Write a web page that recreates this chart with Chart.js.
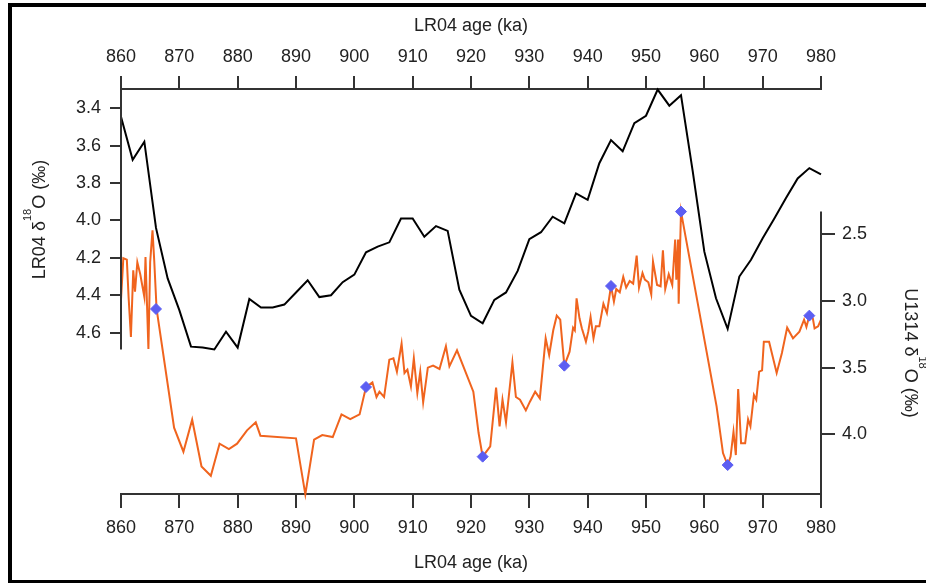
<!DOCTYPE html>
<html>
<head>
<meta charset="utf-8">
<title>LR04 and U1314 benthic d18O, 860-980 ka</title>
<script src="https://cdn.jsdelivr.net/npm/chart.js@4.4.1/dist/chart.umd.min.js"></script>
<style>
  html, body { margin: 0; padding: 0; background: #fff; overflow: hidden; }
  #isotopeChart { display: block; }
</style>
</head>
<body>
<canvas id="isotopeChart" width="926" height="583"></canvas>
<script>
// LR04 stack (2 kyr spacing)
const lr04Age = [860, 862, 864, 866, 868, 870, 872, 874, 876, 878, 880, 882, 884, 886, 888, 890,
  892, 894, 896, 898, 900, 902, 904, 906, 908, 910, 912, 914, 916, 918, 920, 922, 924, 926, 928,
  930, 932, 934, 936, 938, 940, 942, 944, 946, 948, 950, 952, 954, 956, 958, 960, 962, 964, 966,
  968, 970, 972, 974, 976, 978, 980];
const lr04D18O = [3.445, 3.676, 3.579, 4.04, 4.31, 4.48, 4.675, 4.68, 4.69, 4.595, 4.68, 4.42,
  4.466, 4.466, 4.45, 4.385, 4.32, 4.41, 4.40, 4.33, 4.29, 4.17, 4.14, 4.117, 3.99, 3.99, 4.087,
  4.03, 4.056, 4.37, 4.51, 4.55, 4.425, 4.385, 4.27, 4.10, 4.063, 3.98, 4.015, 3.855, 3.89, 3.694,
  3.57, 3.63, 3.48, 3.44, 3.30, 3.386, 3.33, 3.735, 4.167, 4.416, 4.58, 4.30, 4.21, 4.095, 3.99,
  3.88, 3.775, 3.72, 3.753];

// Site U1314 benthic record
const u1314Age = [860.0, 860.4, 861.0, 861.3, 861.7, 862.1, 862.4, 862.8, 863.3, 864.0, 864.2,
  864.7, 865.0, 865.4, 865.7, 866.1, 869.1, 870.7, 872.2, 873.8, 875.4, 876.9, 878.5, 879.9,
  881.6, 883.1, 883.9, 890.0, 891.6, 893.1, 894.5, 896.3, 897.8, 899.3, 900.9, 902.0, 903.1,
  903.8, 904.3, 905.1, 906.0, 906.7, 907.3, 908.1, 908.6, 909.1, 909.7, 910.2, 910.8, 911.3,
  911.8, 912.6, 913.5, 914.6, 915.7, 916.3, 917.6, 920.4, 921.3, 922.0, 923.3, 924.3, 924.9,
  925.4, 926.0, 927.1, 927.7, 928.4, 929.4, 930.1, 931.0, 931.8, 932.8, 933.4, 934.1, 934.7,
  935.3, 936.0, 936.9, 937.5, 937.8, 938.1, 938.6, 939.0, 939.7, 940.1, 940.5, 941.0, 941.4,
  942.0, 942.7, 943.3, 944.0, 944.5, 944.9, 945.5, 946.1, 946.6, 947.2, 947.8, 948.4, 948.8,
  949.4, 949.8, 950.4, 950.9, 951.2, 951.9, 952.5, 952.9, 953.3, 953.9, 954.5, 955.0, 955.2,
  955.5, 955.6, 956.0, 962.1, 963.2, 964.0, 964.5, 965.0, 965.4, 965.8, 966.3, 967.0, 967.5,
  967.9, 968.5, 968.9, 969.4, 969.9, 970.2, 971.1, 972.4, 973.3, 974.2, 975.2, 976.3, 977.1,
  977.5, 978.0, 978.6, 978.9, 979.5, 980.0];
const u1314D18O = [2.99, 2.68, 2.69, 2.97, 3.27, 2.77, 2.93, 2.71, 2.80, 2.97, 2.67,
  3.36, 2.71, 2.47, 2.70, 3.06, 3.95, 4.13, 3.89, 4.24, 4.31, 4.07, 4.11, 4.07,
  3.97, 3.91, 4.01, 4.03, 4.45, 4.04, 4.005, 4.02, 3.85, 3.885, 3.85, 3.645, 3.61,
  3.72, 3.68, 3.72, 3.44, 3.43, 3.53, 3.32, 3.54, 3.515, 3.64, 3.43, 3.69, 3.53,
  3.76, 3.50, 3.485, 3.51, 3.34, 3.49, 3.37, 3.68, 3.99, 4.167, 4.09, 3.65, 3.94,
  3.74, 3.91, 3.46, 3.72, 3.74, 3.82, 3.755, 3.68, 3.73, 3.28, 3.405, 3.22, 3.11,
  3.14, 3.485, 3.38, 3.20, 3.22, 2.98, 3.13, 3.205, 3.305, 3.23, 3.12, 3.28, 3.19,
  3.19, 3.02, 3.09, 2.888, 3.005, 2.91, 2.935, 2.82, 2.90, 2.85, 2.87, 2.66, 2.90,
  2.79, 2.84, 2.86, 2.95, 2.705, 2.88, 2.89, 2.62, 2.91, 2.80, 2.88, 2.54, 2.84,
  2.54, 3.02, 2.33, 3.79, 4.14, 4.23, 4.167, 3.98, 4.155, 3.66, 4.067, 4.067, 3.887,
  3.94, 3.705, 3.74, 3.53, 3.52, 3.305, 3.305, 3.54, 3.39, 3.20, 3.28, 3.23, 3.14,
  3.195, 3.11, 3.13, 3.205, 3.19, 3.14];

// Tie points between U1314 and LR04
const tieAge = [866, 902, 922, 936, 944, 956, 964, 978];
const tieD18O = [3.06, 3.645, 4.167, 3.485, 2.888, 2.33, 4.23, 3.11];

// Tick labels
const ageTicks = [860, 870, 880, 890, 900, 910, 920, 930, 940, 950, 960, 970, 980];
const lr04Ticks = [3.4, 3.6, 3.8, 4.0, 4.2, 4.4, 4.6];
const u1314Ticks = [2.5, 3.0, 3.5, 4.0];

const FONT = '"Liberation Sans", Arial, sans-serif';
const AXIS_COLOR = '#333';
const TEXT_COLOR = '#222';

Chart.defaults.font.family = FONT;
Chart.defaults.font.size = 18;
Chart.defaults.color = TEXT_COLOR;

function toPoints(xs, ys) {
  return xs.map((x, i) => ({ x: x, y: ys[i] }));
}

/**
 * Draw a rotated axis title with a superscript part (δ18O)
 */
function drawSupTitle(ctx, cx, cy, angle, before, sup, after) {
  const mainFont = '18px ' + FONT;
  const supFont = '11px ' + FONT;
  ctx.save();
  ctx.translate(cx, cy);
  ctx.rotate(angle);
  ctx.fillStyle = TEXT_COLOR;
  ctx.textBaseline = 'alphabetic';
  ctx.textAlign = 'left';
  ctx.font = mainFont;
  const w1 = ctx.measureText(before).width;
  const w3 = ctx.measureText(after).width;
  ctx.font = supFont;
  const w2 = ctx.measureText(sup).width;
  let x = -(w1 + w2 + w3) / 2;
  const base = 6.5;
  ctx.font = mainFont;
  ctx.fillText(before, x, base);
  x += w1;
  ctx.font = supFont;
  ctx.fillText(sup, x, base - 14);
  x += w2;
  ctx.font = mainFont;
  ctx.fillText(after, x, base);
  ctx.restore();
}

// Figure frame (left, top and bottom edges only)
const figureFrame = {
  id: 'figureFrame',
  beforeDraw(chart) {
    const ctx = chart.ctx;
    ctx.save();
    ctx.fillStyle = '#000';
    ctx.fillRect(8, 3, 4, 580);
    ctx.fillRect(8, 3, chart.width - 8, 4);
    ctx.fillRect(8, 580, chart.width - 8, 3);
    ctx.restore();
  }
};

// Igor-style partial y axes: the axis line only covers the data range
const partialAxes = {
  id: 'partialAxes',
  afterDraw(chart) {
    const ctx = chart.ctx;
    const yL = chart.scales.yL;
    const yR = chart.scales.yR;
    const lTop = yL.getPixelForValue(Math.min(...lr04D18O));
    const lBot = yL.getPixelForValue(Math.max(...lr04D18O));
    const rTop = yR.getPixelForValue(Math.min(...u1314D18O));
    const rBot = yR.getPixelForValue(Math.max(...u1314D18O));

    ctx.save();
    ctx.strokeStyle = AXIS_COLOR;
    ctx.lineWidth = 2;
    ctx.beginPath();
    ctx.moveTo(yL.right, lTop);
    ctx.lineTo(yL.right, lBot);
    ctx.moveTo(yR.left, rTop);
    ctx.lineTo(yR.left, rBot);
    ctx.stroke();
    ctx.restore();

    drawSupTitle(ctx, 38.5, (lTop + lBot) / 2, -Math.PI / 2, 'LR04 δ', '18', 'O (‰)');
    drawSupTitle(ctx, 911.5, (rTop + rBot) / 2, Math.PI / 2, 'U1314 δ', '18', 'O (‰)');
  }
};

function xAxis(position, tickLength, padding, titlePadding) {
  return {
    type: 'linear',
    position: position,
    min: 860,
    max: 980,
    afterBuildTicks: s => { s.ticks = ageTicks.map(v => ({ value: v })); },
    afterFit: s => { s.height = 89; },
    ticks: { padding: padding, color: TEXT_COLOR, callback: v => String(v) },
    grid: {
      drawOnChartArea: false, drawTicks: true, tickLength: tickLength,
      tickWidth: 2, tickColor: AXIS_COLOR, color: AXIS_COLOR, lineWidth: 2
    },
    border: { display: true, color: AXIS_COLOR, width: 2 },
    title: { display: true, text: 'LR04 age (ka)', color: TEXT_COLOR, padding: titlePadding }
  };
}

function yAxis(position, range, tickList, width, tickLength, padding) {
  return {
    type: 'linear',
    position: position,
    reverse: true,
    min: range[0],
    max: range[1],
    afterBuildTicks: s => { s.ticks = tickList.map(v => ({ value: v })); },
    afterFit: s => { s.width = width; },
    ticks: { padding: padding, color: TEXT_COLOR, callback: v => v.toFixed(1) },
    grid: {
      drawOnChartArea: false, drawTicks: true, tickLength: tickLength,
      tickWidth: 2, tickColor: AXIS_COLOR, color: AXIS_COLOR, lineWidth: 2
    },
    border: { display: false }
  };
}

const ctx = document.getElementById('isotopeChart');
new Chart(ctx, {
  type: 'line',
  data: {
    datasets: [
      {
        label: 'Tie points',
        data: toPoints(tieAge, tieD18O),
        yAxisID: 'yR',
        showLine: false,
        pointStyle: 'rectRot',
        pointRadius: 5.5,
        backgroundColor: '#5c5ef2',
        borderColor: '#5c5ef2',
        borderWidth: 1,
        clip: false
      },
      {
        label: 'U1314',
        data: toPoints(u1314Age, u1314D18O),
        yAxisID: 'yR',
        borderColor: '#f0641e',
        borderWidth: 2,
        pointRadius: 0,
        tension: 0,
        clip: false
      },
      {
        label: 'LR04',
        data: toPoints(lr04Age, lr04D18O),
        yAxisID: 'yL',
        borderColor: '#000',
        borderWidth: 2,
        pointRadius: 0,
        tension: 0,
        clip: false
      }
    ]
  },
  options: {
    responsive: false,
    animation: false,
    devicePixelRatio: 1,
    layout: { padding: 0 },
    plugins: {
      legend: { display: false },
      tooltip: { enabled: false }
    },
    scales: {
      x: xAxis('bottom', 14, 9, { top: 0, bottom: 9 }),
      xTop: xAxis('top', 13, 8, { top: 15, bottom: 0 }),
      yL: yAxis('left', [3.297, 5.463], lr04Ticks, 121, 11, 9),
      yR: yAxis('right', [1.411, 4.447], u1314Ticks, 105, 14, 7)
    }
  },
  plugins: [figureFrame, partialAxes]
});
</script>
</body>
</html>
